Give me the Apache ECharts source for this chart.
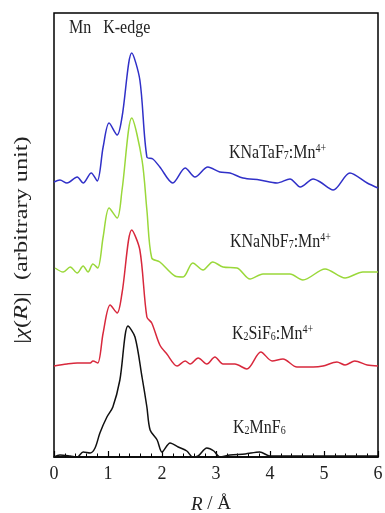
<!DOCTYPE html>
<html>
<head>
<meta charset="utf-8">
<script src="https://cdn.jsdelivr.net/npm/echarts@6/dist/echarts.min.js"></script>
<style>
  html, body { margin: 0; padding: 0; background: #fff; }
  #chart { width: 385px; height: 513px; }
</style>
</head>
<body>
<div id="chart"></div>
<script>
// |χ(R)| curves, stacked with offsets (arbitrary units), x = R in Å
const xTicks = [0, 1, 2, 3, 4, 5, 6];

const kNaTaF7 = [
  [0, 275], [0.11, 277], [0.24, 274], [0.43, 280], [0.54, 274], [0.69, 284], [0.8, 276],
  [0.91, 310], [1.02, 334], [1.17, 322], [1.26, 340], [1.44, 404], [1.59, 377], [1.72, 300],
  [1.83, 298], [1.96, 290], [2.2, 274], [2.43, 289], [2.61, 280], [2.85, 290], [3.07, 285],
  [3.26, 284], [3.5, 279], [3.81, 277], [4.13, 274], [4.37, 278], [4.56, 270], [4.8, 278],
  [4.93, 275], [5.17, 267], [5.48, 284], [5.8, 274], [6, 269]
];

const kNaNbF7 = [
  [0.02, 189], [0.17, 185], [0.3, 190], [0.43, 184], [0.54, 191], [0.63, 185], [0.72, 193],
  [0.81, 189], [0.91, 220], [1.02, 249], [1.17, 239], [1.26, 267], [1.44, 339], [1.63, 297],
  [1.72, 247], [1.81, 199], [1.96, 195], [2.24, 181], [2.39, 180], [2.57, 194], [2.76, 187],
  [2.94, 195], [3.13, 190], [3.39, 189], [3.63, 178], [3.87, 183], [4.37, 183], [4.61, 177],
  [5.02, 188], [5.39, 179], [5.72, 185], [6, 185]
];

const k2SiF6 = [
  [0, 91], [0.24, 93], [0.43, 94], [0.54, 94], [0.67, 94], [0.72, 96], [0.81, 94],
  [0.91, 124], [1.04, 152], [1.17, 144], [1.26, 164], [1.44, 227], [1.59, 207], [1.72, 140],
  [1.81, 134], [1.96, 112], [2.09, 103], [2.28, 91], [2.43, 96], [2.52, 93], [2.67, 99],
  [2.83, 93], [2.98, 100], [3.13, 93], [3.35, 93], [3.57, 88], [3.83, 105], [4.04, 96],
  [4.24, 98], [4.5, 90], [4.8, 90], [4.98, 91], [5.24, 95], [5.39, 92], [5.57, 96],
  [5.8, 92], [6, 91]
];

const k2MnF6 = [
  [0, 0], [0.11, 2], [0.3, 1], [0.43, 0], [0.54, 5], [0.67, 4], [0.76, 9], [0.85, 24],
  [0.98, 40], [1.09, 50], [1.22, 77], [1.37, 131], [1.5, 120], [1.63, 80], [1.72, 50],
  [1.78, 27], [1.91, 17], [2, 5], [2.15, 14], [2.3, 10], [2.46, 6], [2.57, 0], [2.67, 1],
  [2.83, 9], [2.96, 6], [3.07, 0], [3.26, 2], [3.54, 3], [3.81, 5], [4, 1], [4.24, 1],
  [4.87, 1], [5.48, 1], [6, 1]
];

const serif = '"Liberation Serif", "DejaVu Serif", serif';
const ink = '#222';

const chart = echarts.init(document.getElementById('chart'));

function curve(data, color) {
  return {
    type: 'line',
    data,
    showSymbol: false,
    smooth: 0.3,
    lineStyle: { width: 1.5, color },
    silent: true
  };
}

const richLabel = {
  n: { fontFamily: serif, fontSize: 16, fill: ink },
  i: { fontFamily: serif, fontSize: 16, fontStyle: 'italic', fill: ink },
  b: { fontFamily: serif, fontSize: 10, fill: ink, verticalAlign: 'bottom', padding: [6, 0, 0, 0] },
  p: { fontFamily: serif, fontSize: 10, fill: ink, verticalAlign: 'top', padding: [0, 0, 6, 0] }
};

// the source figure is stretched vertically, hence scaleY on the labels
function label(x, y, text) {
  return {
    type: 'text',
    x, y,
    scaleY: 1.2,
    style: { text, fill: ink, font: '16px ' + serif, rich: richLabel }
  };
}

chart.setOption({
  animation: false,
  grid: {
    left: 54, top: 13, width: 324, height: 444,
    outerBoundsMode: 'none',
    show: true, borderColor: '#000', borderWidth: 1.5, backgroundColor: 'transparent'
  },
  xAxis: {
    type: 'value',
    min: 0, max: 6, interval: 1,
    axisLine: { lineStyle: { color: '#000', width: 1.5 } },
    axisTick: { inside: true, length: 6, lineStyle: { color: '#000', width: 1.2 } },
    minorTick: { show: true, splitNumber: 5, length: 3.5, lineStyle: { color: '#000', width: 1 } },
    splitLine: { show: false },
    axisLabel: {
      color: ink, fontFamily: serif, fontSize: 18, margin: 8,
      formatter: v => xTicks.includes(v) ? String(v) : ''
    },
    name: '{i|R} / Å',
    nameLocation: 'middle',
    nameGap: 38,
    nameTextStyle: {
      fontFamily: serif, fontSize: 19, color: ink, padding: [0, 10, 0, 0],
      rich: { i: { fontFamily: serif, fontSize: 19, fontStyle: 'italic', color: ink } }
    }
  },
  yAxis: {
    type: 'value',
    min: 0, max: 444,
    show: false
  },
  series: [
    curve(kNaTaF7, '#3030c8'),
    curve(kNaNbF7, '#9ad83a'),
    curve(k2SiF6, '#d8283c'),
    curve(k2MnF6, '#111111')
  ],
  graphic: [
    {
      type: 'text',
      x: 22, y: 240,
      rotation: Math.PI / 2,
      scaleX: 1.35,
      style: {
        text: '{n||}{i|χ}{n|(}{i|R}{n|)|  (arbitrary unit)}',
        align: 'center', verticalAlign: 'middle',
        font: '18px ' + serif,
        rich: {
          n: { fontFamily: serif, fontSize: 18, fill: ink },
          i: { fontFamily: serif, fontSize: 18, fontStyle: 'italic', fill: ink }
        }
      }
    },
    label(69, 18, '{n|Mn   K-edge}'),
    label(229, 143, '{n|KNaTaF}{b|7}{n|:Mn}{p|4+}'),
    label(230, 232, '{n|KNaNbF}{b|7}{n|:Mn}{p|4+}'),
    label(232, 324, '{n|K}{b|2}{n|SiF}{b|6}{n|:Mn}{p|4+}'),
    label(233, 418, '{n|K}{b|2}{n|MnF}{b|6}')
  ]
});
</script>
</body>
</html>
